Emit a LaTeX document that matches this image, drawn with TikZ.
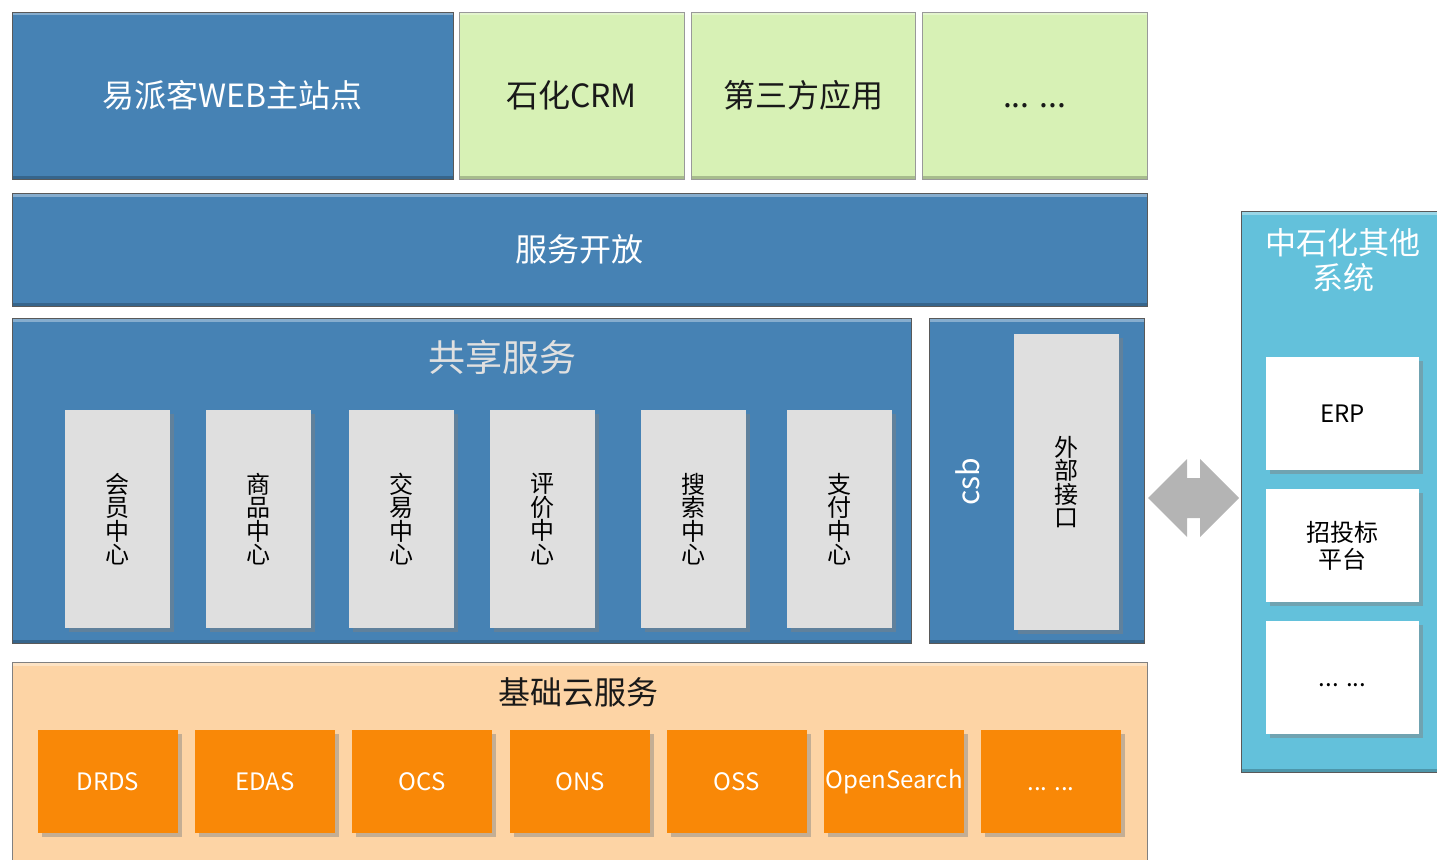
\documentclass[tikz,border=0pt]{standalone}
\usepackage{fontspec}
\newfontfamily\cjk{Noto Sans CJK SC}
\usetikzlibrary{shadows}
\definecolor{layerblue}{RGB}{70,130,180}
\definecolor{appgreen}{RGB}{215,241,181}
\definecolor{cellgray}{RGB}{223,223,223}
\definecolor{panelcyan}{RGB}{99,193,219}
\definecolor{basepeach}{RGB}{253,212,165}
\definecolor{svcorange}{RGB}{249,136,7}
\definecolor{arrowgray}{RGB}{180,180,180}
\newcommand{\moredots}{\vphantom{中}... ...}
\begin{document}
\begin{tikzpicture}[x=1pt, y=-1pt, every node/.style={inner sep=0pt, align=center, font=\cjk},
  bevel/.style={path picture={
    \draw[white, opacity=.35, line width=7pt] (path picture bounding box.north west) -- (path picture bounding box.north east);
    \draw[black, opacity=.22, line width=7pt] (path picture bounding box.south west) -- (path picture bounding box.south east);}},
  layer/.style={rectangle, draw=black!65, line width=0.8pt, bevel, font=\cjk\fontsize{32}{38}\selectfont},
  app/.style={layer, fill=appgreen, draw=black!40, text=black!90, minimum width=225pt, minimum height=167pt},
  softshadow/.style={drop shadow={shadow xshift=4pt, shadow yshift=-4pt, opacity=.45}},
  cell/.style={rectangle, fill=cellgray, softshadow, minimum width=105pt, minimum height=218pt, font=\cjk\fontsize{24}{23.5}\selectfont},
  svc/.style={rectangle, fill=svcorange, softshadow, text=white, minimum width=140pt, minimum height=103pt, font=\cjk\fontsize{24}{28}\selectfont},
  sysbox/.style={rectangle, fill=white, softshadow, minimum width=153pt, minimum height=113pt, font=\cjk\fontsize{24}{27}\selectfont}]
  \useasboundingbox (0,0) rectangle (1437,859);
  % application layer and open services
  \node[layer, fill=layerblue, text=white, minimum width=441pt, minimum height=167pt] (web) at (232.5,95.5) {易派客WEB主站点};
  \node[app] (crm) at (571.5,95.5) {石化CRM};
  \node[app, minimum width=224pt] (third) at (803,95.5) {第三方应用};
  \node[app] (appetc) at (1034.5,95.5) {\moredots};
  \node[layer, fill=layerblue, text=white, minimum width=1135pt, minimum height=113pt] (open) at (579.5,249.5) {服务开放};
  % shared services
  \node[layer, fill=layerblue, minimum width=899pt, minimum height=325pt] (shared) at (461.5,480.5) {};
  \node[text=white!88!black, font=\cjk\fontsize{37}{40}\selectfont] (sharedt) at (502,357) {共享服务};
  \foreach \x/\t [count=\i] in {117.5/会\\员\\中\\心, 258.5/商\\品\\中\\心, 401.5/交\\易\\中\\心,
      542.5/评\\价\\中\\心, 693.5/搜\\索\\中\\心, 839.5/支\\付\\中\\心}
    \node[cell] (c\i) at (\x,519) {\t};
  \node[layer, fill=layerblue, minimum width=215pt, minimum height=325pt] (csb) at (1036.5,480.5) {};
  \node[text=white, rotate=90, font=\cjk\fontsize{30}{34}\selectfont] (csbt) at (968,482) {csb};
  \node[cell, minimum height=296pt] (ext) at (1066.5,482) {外\\部\\接\\口};
  % link to other systems
  \coordinate (arr) at (1193.5,498);
  \fill[arrowgray, shift={(arr)}] (-45.5,0) -- (-6.5,-39) -- (-6.5,-20) -- (6.5,-20) -- (6.5,-39) -- (45.5,0)
    -- (6.5,39) -- (6.5,20) -- (-6.5,20) -- (-6.5,39) -- cycle;
  \node[layer, fill=panelcyan, minimum width=209pt, minimum height=561pt] (other) at (1345.5,491.5) {};
  \node[text=white, font=\cjk\fontsize{31}{35}\selectfont] (othert) at (1343,260.5) {中石化其他\\系统};
  \node[sysbox] (erp) at (1342.5,413.5) {ERP};
  \node[sysbox] (bid) at (1342.5,545.5) {招投标\\平台};
  \node[sysbox] (sysetc) at (1342.5,677.5) {\moredots};
  % cloud base
  \node[layer, fill=basepeach, draw=black!50, minimum width=1135pt, minimum height=210pt] (base) at (579.5,767) {};
  \node[text=black!90, font=\cjk\fontsize{32}{38}\selectfont] (baset) at (578,692) {基础云服务};
  \foreach \x/\t [count=\i] in {108/DRDS, 265/EDAS, 422/OCS, 580/ONS, 737/OSS, 894/OpenSearch, 1051/\moredots}
    \node[svc] (s\i) at (\x,781.5) {\t};
\end{tikzpicture}
\end{document}
